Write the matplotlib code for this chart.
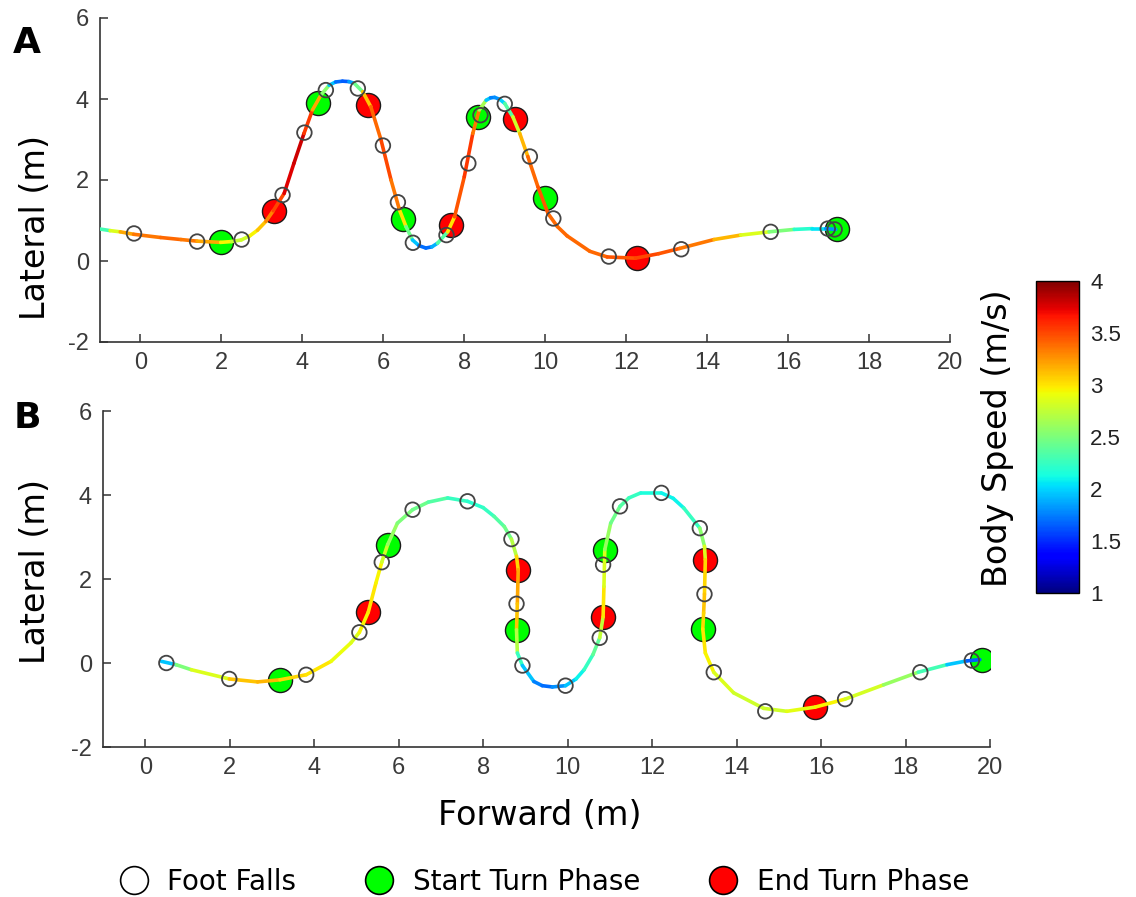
import numpy as np
import matplotlib
matplotlib.use('Agg')
from matplotlib import pyplot as plt
from matplotlib.collections import LineCollection
from matplotlib.lines import Line2D
from matplotlib.colors import Normalize

plt.rcParams['axes.unicode_minus'] = False

# ---- panel A: body path (forward, lateral, speed) ----
a_path_x = [-1.0, -0.75, -0.5, -0.17, 0.5, 1.0, 1.4, 1.98, 2.25, 2.49, 2.7, 2.89, 3.1, 3.28,
            3.55, 3.79, 4.04, 4.25, 4.46, 4.66, 4.82, 4.99, 5.15, 5.28, 5.49, 5.69, 5.94, 6.19,
            6.40, 6.56, 6.72, 6.88, 7.05, 7.2, 7.34, 7.59, 7.76, 8.0, 8.21, 8.37, 8.54, 8.65,
            8.75, 8.88, 9.0, 9.2, 9.37, 9.57, 9.82, 10.07, 10.3, 10.54, 11.1, 11.53, 12.23,
            12.8, 13.32, 14.17, 14.83, 15.53, 16.15, 16.6, 16.93, 17.18]
a_path_y = [0.79, 0.75, 0.72, 0.66, 0.58, 0.53, 0.49, 0.46, 0.48, 0.52, 0.62, 0.76, 0.98, 1.24,
            1.67, 2.41, 3.15, 3.73, 4.10, 4.34, 4.42, 4.44, 4.43, 4.39, 4.18, 3.81, 3.0, 2.0,
            1.26, 0.85, 0.52, 0.38, 0.32, 0.35, 0.44, 0.72, 1.09, 2.08, 3.15, 3.73, 3.97, 4.03,
            4.04, 3.99, 3.89, 3.56, 3.15, 2.58, 1.83, 1.17, 0.85, 0.62, 0.24, 0.10, 0.07,
            0.18, 0.31, 0.53, 0.64, 0.72, 0.78, 0.80, 0.80, 0.78]
a_speed = [2.0, 2.6, 3.1, 3.3, 3.4, 3.4, 3.3, 3.1, 2.8, 2.7, 2.9, 3.0, 3.2, 3.4,
           3.6, 3.9, 3.7, 3.4, 3.0, 2.1, 1.8, 1.6, 1.7, 2.0, 2.9, 3.3, 3.5, 3.5,
           3.2, 2.8, 2.1, 1.8, 1.6, 1.8, 2.0, 2.7, 3.3, 3.6, 3.5, 3.2, 2.1, 1.8,
           1.7, 1.9, 2.1, 2.6, 3.0, 3.3, 3.5, 3.4, 3.4, 3.4, 3.4, 3.4, 3.5,
           3.5, 3.4, 3.3, 3.0, 2.7, 2.3, 2.1, 2.0, 1.6]

a_foot_x = [-0.16, 1.4, 2.5, 3.51, 4.05, 4.58, 5.37, 5.99, 6.36, 6.73, 7.56, 8.1, 8.4, 9.0,
            9.62, 10.2, 11.57, 13.36, 15.57, 16.98, 17.15]
a_foot_y = [0.68, 0.48, 0.53, 1.63, 3.17, 4.22, 4.26, 2.85, 1.45, 0.45, 0.64, 2.41, 3.6, 3.88,
            2.58, 1.05, 0.11, 0.29, 0.72, 0.80, 0.78]
a_start_x = [1.98, 4.38, 6.48, 8.34, 10.0, 17.22]
a_start_y = [0.46, 3.89, 1.04, 3.55, 1.55, 0.78]
a_end_x = [3.29, 5.62, 7.68, 9.25, 12.27]
a_end_y = [1.24, 3.85, 0.89, 3.50, 0.07]

# ---- panel B ----
b_path_x = [0.38, 0.73, 1.09, 1.99, 2.66, 3.19, 3.81, 4.40, 4.87, 5.07, 5.28, 5.46, 5.60, 5.74,
            5.97, 6.33, 6.7, 7.16, 7.63, 8.0, 8.26, 8.5, 8.67, 8.79, 8.83, 8.81, 8.79, 8.81,
            8.93, 9.20, 9.40, 9.64, 9.95, 10.2, 10.39, 10.6, 10.76, 10.84, 10.86, 10.88, 11.02,
            11.24, 11.45, 11.73, 12.22, 12.5, 12.75, 13.13, 13.24, 13.26, 13.24, 13.22, 13.20,
            13.26, 13.46, 13.93, 14.64, 15.19, 15.86, 16.57, 17.48, 18.30, 18.98, 19.45, 19.76]
b_path_y = [0.04, -0.04, -0.16, -0.38, -0.45, -0.40, -0.28, 0.04, 0.48, 0.73, 1.21, 1.90, 2.40,
            2.82, 3.33, 3.65, 3.83, 3.93, 3.85, 3.70, 3.49, 3.25, 2.95, 2.54, 2.22, 1.41, 0.79,
            0.24, -0.06, -0.44, -0.54, -0.57, -0.54, -0.38, -0.16, 0.2, 0.60, 1.10, 1.82, 2.70,
            3.33, 3.73, 3.93, 4.05, 4.05, 3.92, 3.69, 3.21, 2.78, 2.46, 1.64, 1.19, 0.81,
            0.24, -0.22, -0.71, -1.08, -1.15, -1.05, -0.86, -0.52, -0.22, -0.04, 0.05, 0.08]
b_speed = [1.6, 2.3, 2.7, 3.0, 3.2, 3.1, 3.0, 3.0, 2.8, 2.9, 3.0, 3.0, 2.9, 2.7,
           2.5, 2.5, 2.4, 2.3, 2.2, 2.2, 2.3, 2.4, 2.5, 2.9, 3.2, 3.2, 3.0, 2.4,
           2.1, 1.8, 1.7, 1.7, 1.9, 2.0, 2.2, 2.3, 2.5, 3.0, 3.0, 2.7, 2.5,
           2.4, 2.3, 2.2, 2.1, 2.1, 2.1, 2.4, 2.7, 3.0, 3.1, 3.1, 3.0,
           3.0, 2.9, 2.8, 2.8, 2.8, 2.95, 2.95, 2.7, 2.5, 2.1, 1.8, 1.5]

b_foot_x = [0.5, 1.99, 3.81, 5.07, 5.6, 6.33, 7.63, 8.67, 8.79, 8.93, 9.95, 10.76, 10.84, 11.24,
            12.22, 13.13, 13.24, 13.46, 14.68, 16.57, 18.35, 19.57]
b_foot_y = [0.0, -0.38, -0.28, 0.73, 2.40, 3.65, 3.85, 2.95, 1.41, -0.06, -0.54, 0.60, 2.34, 3.73,
            4.05, 3.21, 1.64, -0.22, -1.15, -0.86, -0.22, 0.06]
b_start_x = [3.19, 5.74, 8.79, 10.88, 13.20, 19.80]
b_start_y = [-0.40, 2.82, 0.79, 2.70, 0.81, 0.06]
b_end_x = [5.28, 8.83, 10.84, 13.26, 15.86]
b_end_y = [1.21, 2.22, 1.10, 2.46, -1.05]

speed_ticks = [1, 1.5, 2, 2.5, 3, 3.5, 4]
x_ticks = list(range(0, 21, 2))
y_ticks = [-2, 0, 2, 4, 6]

TICK_FONT = 'Liberation Sans'
LABEL_FONT = 'DejaVu Sans'
GRAY = '#333333'
GREEN = '#00ff00'
RED = '#ff0000'

norm = Normalize(vmin=1, vmax=4)
cmap = plt.get_cmap('jet')


def draw_panel(ax, px, py, spd, fx, fy, sx, sy, ex, ey):
    pts = np.column_stack([px, py]).reshape(-1, 1, 2)
    segs = np.concatenate([pts[:-1], pts[1:]], axis=1)
    spd = np.asarray(spd)
    lc = LineCollection(segs, cmap=cmap, norm=norm, linewidth=2.6,
                        capstyle='round', joinstyle='round', zorder=3)
    lc.set_array((spd[:-1] + spd[1:]) / 2)
    ax.scatter(sx, sy, s=300, c=GREEN, edgecolors='#1a1a1a', linewidths=1.0, zorder=2)
    ax.scatter(ex, ey, s=300, c=RED, edgecolors='#1a1a1a', linewidths=1.0, zorder=2)
    ax.add_collection(lc)
    ax.scatter(fx, fy, s=110, facecolors='none', edgecolors='#444444', linewidths=1.3, zorder=4)

    ax.set_xlim(-1, 20)
    ax.set_ylim(-2, 6)
    ax.set_xticks(x_ticks)
    ax.set_yticks(y_ticks)
    for side in ['top', 'right']:
        ax.spines[side].set_visible(False)
    for side in ['left', 'bottom']:
        ax.spines[side].set_color(GRAY)
        ax.spines[side].set_linewidth(1.2)
    ax.tick_params(direction='in', length=6, width=1.1, color=GRAY, labelcolor='#3a3a3a',
                   labelsize=17)
    ax.tick_params(axis='x', pad=7)
    ax.tick_params(axis='y', pad=8)
    for lab in ax.get_xticklabels() + ax.get_yticklabels():
        lab.set_fontfamily(TICK_FONT)
    return lc


fig = plt.figure(figsize=(11.36, 8.97), dpi=100)
W, H = 1136.0, 897.0

ax_a = fig.add_axes([100 / W, 1 - 342 / H, 850 / W, 324 / H])
ax_b = fig.add_axes([103 / W, 1 - 747 / H, 887 / W, 336 / H])

draw_panel(ax_a, a_path_x, a_path_y, a_speed, a_foot_x, a_foot_y,
           a_start_x, a_start_y, a_end_x, a_end_y)
draw_panel(ax_b, b_path_x, b_path_y, b_speed, b_foot_x, b_foot_y,
           b_start_x, b_start_y, b_end_x, b_end_y)

# panel letters and axis labels
fig.text(27 / W, 1 - 43 / H, 'A', fontsize=26, fontweight='bold', family=LABEL_FONT,
         ha='center', va='center')
fig.text(27 / W, 1 - 418 / H, 'B', fontsize=26, fontweight='bold', family=LABEL_FONT,
         ha='center', va='center')
fig.text(36 / W, 1 - 227 / H, 'Lateral (m)', rotation=90, fontsize=24, family=LABEL_FONT,
         ha='center', va='center')
fig.text(36 / W, 1 - 572 / H, 'Lateral (m)', rotation=90, fontsize=24, family=LABEL_FONT,
         ha='center', va='center')
fig.text(540 / W, 1 - 815 / H, 'Forward (m)', fontsize=24, family=LABEL_FONT,
         ha='center', va='center')

# colorbar
cax = fig.add_axes([1036 / W, 1 - 593 / H, 43 / W, 312 / H])
cb = fig.colorbar(plt.cm.ScalarMappable(norm=norm, cmap=cmap), cax=cax, ticks=speed_ticks)
cb.ax.set_yticklabels([('%g' % t) for t in speed_ticks], family=TICK_FONT, fontsize=16,
                      color='#222222')
cb.ax.tick_params(length=0, pad=8)
cb.outline.set_linewidth(1.0)
fig.text(997 / W, 1 - 438 / H, 'Body Speed (m/s)', rotation=90, fontsize=24,
         family=LABEL_FONT, ha='center', va='center')

# legend
handles = [
    Line2D([], [], ls='none', marker='o', ms=20, mfc='white', mec='black', mew=1.2),
    Line2D([], [], ls='none', marker='o', ms=20, mfc=GREEN, mec='black', mew=1.2),
    Line2D([], [], ls='none', marker='o', ms=20, mfc=RED, mec='black', mew=1.2),
]
fig.legend(handles, ['Foot Falls', 'Start Turn Phase', 'End Turn Phase'], ncol=3,
           loc='center', bbox_to_anchor=(543 / W, 1 - 882 / H), frameon=False,
           prop={'family': LABEL_FONT, 'size': 20}, handletextpad=0.6, columnspacing=2.4,
           handlelength=1.2)

fig.savefig('out.png', dpi=100)
